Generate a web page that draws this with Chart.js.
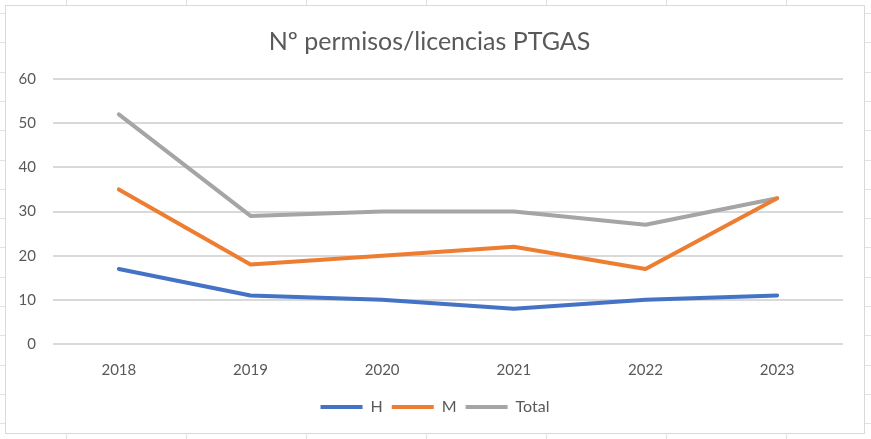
<!DOCTYPE html>
<html>
<head>
<meta charset="utf-8">
<script src="https://cdn.jsdelivr.net/npm/chart.js@4/dist/chart.umd.min.js"></script>
<style>
  html, body { margin: 0; padding: 0; }
  body {
    width: 871px; height: 439px; overflow: hidden;
    background-color: #fff;
    background-image:
      repeating-linear-gradient(to right, transparent 0, transparent 66px, #e1e1e1 66px, #e1e1e1 67px, transparent 67px, transparent 120px),
      repeating-linear-gradient(to bottom, transparent 0, transparent 13px, #e1e1e1 13px, #e1e1e1 14px, transparent 14px, transparent 29.3px);
  }
  #wrap {
    position: absolute; left: 5px; top: 5px;
    width: 858px; height: 427px;
    border: 1px solid #d9d9d9; background: #fff;
  }
</style>
</head>
<body>
<div id="wrap"><canvas id="chart" width="858" height="427"></canvas></div>
<script>
// años y series
const years = ['2018', '2019', '2020', '2021', '2022', '2023'];
const hombres = [17, 11, 10, 8, 10, 11];
const mujeres = [35, 18, 20, 22, 17, 33];
const total = [52, 29, 30, 30, 27, 33];
const yTicks = [0, 10, 20, 30, 40, 50, 60];

const font = "Lato, 'Open Sans', sans-serif";
const grey = '#595959';

function serie(label, data, color) {
    return {
        label: label,
        data: data,
        borderColor: color,
        backgroundColor: color,
        borderWidth: 4,
        borderCapStyle: 'round',
        borderJoinStyle: 'round',
        pointRadius: 0,
        pointStyle: 'line',
        tension: 0
    };
}

// la leyenda va centrada en todo el gráfico, no en el área con padding
const centrarLeyenda = {
    id: 'centrarLeyenda',
    afterLayout(chart) {
        chart.legend.left += 11;
    }
};

const ctx = document.getElementById('chart').getContext('2d');
new Chart(ctx, {
    type: 'line',
    data: {
        labels: years,
        datasets: [
            serie('H', hombres, '#4472C4'),
            serie('M', mujeres, '#ED7D31'),
            serie('Total', total, '#A5A5A5')
        ]
    },
    options: {
        responsive: false,
        animation: false,
        layout: { padding: { left: 10, right: 21, top: 0, bottom: 8 } },
        plugins: {
            title: {
                display: true,
                text: 'Nº permisos/licencias PTGAS',
                color: grey,
                font: { family: font, size: 25, weight: 'normal' },
                padding: { top: 21, bottom: 22 }
            },
            legend: {
                position: 'bottom',
                labels: {
                    usePointStyle: true,
                    pointStyleWidth: 42,
                    boxHeight: 8,
                    color: grey,
                    font: { family: font, size: 16 },
                    padding: 9
                }
            },
            tooltip: { enabled: false }
        },
        scales: {
            x: {
                offset: true,
                grid: { display: false, drawTicks: false },
                border: { display: false },
                ticks: { color: grey, font: { family: font, size: 15 }, padding: 17 },
                afterFit: s => { s.height = 46; }
            },
            y: {
                min: 0,
                max: 60,
                afterBuildTicks: s => { s.ticks = yTicks.map(v => ({ value: v })); },
                grid: { color: '#d9d9d9', lineWidth: 2, drawTicks: false },
                border: { display: false },
                ticks: { color: grey, font: { family: font, size: 15 }, padding: 17 },
                afterFit: s => { s.width = 37; }
            }
        }
    },
    plugins: [centrarLeyenda]
});
</script>
</body>
</html>
